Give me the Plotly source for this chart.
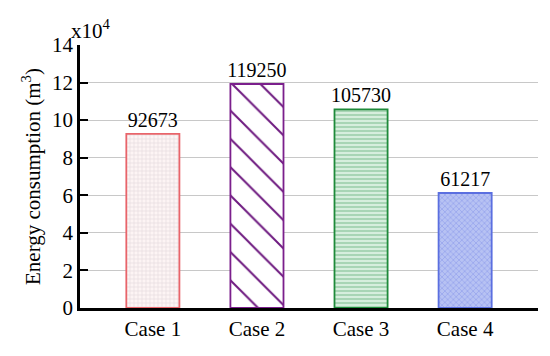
import plotly.graph_objects as go

categories = ["Case 1", "Case 2", "Case 3", "Case 4"]
values = [92673, 119250, 105730, 61217]
scaled = [v / 1e4 for v in values]
y_ticks = [0, 2, 4, 6, 8, 10, 12, 14]

line_colors = ["#e8646a", "#7b1f8c", "#1e8a3a", "#5b6fe0"]
fill_colors = ["#fdf4f4", "#ffffff", "#d6eedd", "#b7c2f3"]
pattern_shapes = ["+", "\\", "-", "x"]
pattern_fg = ["#cdc2c7", "#6e1a80", "#7fc093", "#7789e6"]
pattern_size = [4, 20, 4, 4]
pattern_sol = [0.3, 0.1, 0.45, 0.35]
pattern_op = [0.5, 1.0, 0.6, 0.5]

FONT = "Liberation Serif, Times New Roman, serif"

fig = go.Figure()
for i, c in enumerate(categories):
    fig.add_trace(go.Bar(
        x=[c], y=[scaled[i]],
        text=[str(values[i])], textposition="outside",
        constraintext="none",
        textfont=dict(family=FONT, size=20, color="black"),
        cliponaxis=False,
        marker=dict(
            color=fill_colors[i],
            line=dict(color=line_colors[i], width=1.8),
            pattern=dict(shape=pattern_shapes[i], fgcolor=pattern_fg[i],
                         fgopacity=pattern_op[i],
                         bgcolor=fill_colors[i], size=pattern_size[i],
                         solidity=pattern_sol[i], fillmode="overlay"),
        ),
        width=0.51,
        showlegend=False,
    ))

fig.update_layout(
    width=550, height=356,
    margin=dict(l=72, r=20, t=37, b=56),
    paper_bgcolor="white", plot_bgcolor="white",
    font=dict(family=FONT, size=21, color="black"),
    xaxis=dict(
        range=[-0.7, 3.7], showline=True, linecolor="black", linewidth=3,
        ticks="", showgrid=False, tickfont=dict(size=21), automargin=False,
    ),
    yaxis=dict(
        range=[0, 14], tickvals=y_ticks, showline=True, linecolor="black",
        linewidth=2.5, ticks="inside", ticklen=8, tickwidth=2, tickcolor="black",
        showgrid=True, gridcolor="#c8c8c8", gridwidth=1.2, zeroline=False,
        tickfont=dict(size=21), automargin=False,
        title=dict(text="Energy consumption (m<sup>3</sup>)", font=dict(size=21), standoff=6),
    ),
    annotations=[dict(
        text="x10<sup>4</sup>", xref="paper", yref="paper", x=-0.024, y=1.0,
        xanchor="left", yanchor="bottom", showarrow=False,
        font=dict(family=FONT, size=21, color="black"),
    )],
)

fig.write_html("out.html")
